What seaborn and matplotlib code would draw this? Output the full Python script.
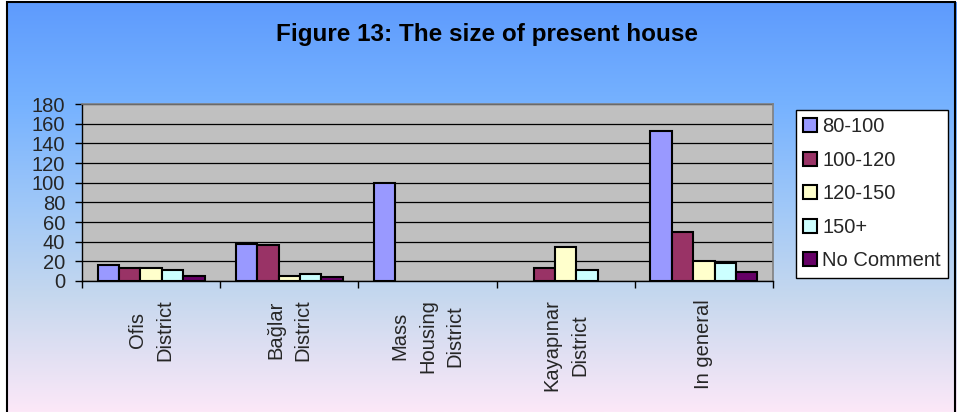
import numpy as np
import pandas as pd
import matplotlib
matplotlib.use("Agg")
import matplotlib.pyplot as plt
import seaborn as sns
from matplotlib.patches import Rectangle
from matplotlib.colors import LinearSegmentedColormap

# ---- data ----
categories = ["Ofis\nDistrict", "Bağlar\nDistrict", "Mass\nHousing\nDistrict",
              "Kayapınar\nDistrict", "In general"]
series_names = ["80-100", "100-120", "120-150", "150+", "No Comment"]
s_80_100 = [16, 38, 100, 0, 153]
s_100_120 = [13, 37, 0, 13, 50]
s_120_150 = [13, 5, 0, 35, 20]
s_150_plus = [11, 7, 0, 11, 18]
s_no_comment = [5, 4, 0, 0, 9]
y_ticks = [0, 20, 40, 60, 80, 100, 120, 140, 160, 180]
title = "Figure 13: The size of present house"

colors = ["#9999ff", "#993366", "#ffffcc", "#ccffff", "#660066"]

rows = []
for name, vals in zip(series_names,
                      [s_80_100, s_100_120, s_120_150, s_150_plus, s_no_comment]):
    for c, v in zip(categories, vals):
        rows.append({"category": c, "series": name, "value": v})
df = pd.DataFrame(rows)

sns.set_theme(style="white")
plt.rcParams["font.family"] = ["Liberation Sans", "DejaVu Sans"]

FS = 14.5
W, H = 957, 412
fig = plt.figure(figsize=(W / 100, H / 100), dpi=100)
fig.patch.set_facecolor("white")

# background gradient
bg = fig.add_axes([0, 0, 1, 1], zorder=-5)
cmap = LinearSegmentedColormap.from_list(
    "bg", [(0.0, (94/255, 155/255, 253/255)),
           (0.25, (118/255, 178/255, 255/255)),
           (0.5, (160/255, 200/255, 248/255)),
           (0.72, (198/255, 216/255, 238/255)),
           (1.0, (252/255, 232/255, 248/255))])
grad = np.linspace(0, 1, 256).reshape(-1, 1)
bg.imshow(grad, aspect="auto", cmap=cmap,
          extent=[7 / W, 1, 0, 1 - 2 / H], origin="upper")
bg.set_xlim(0, 1)
bg.set_ylim(0, 1)
bg.axis("off")
bg.add_patch(Rectangle((7 / W, -0.05), (955 - 7) / W, 1 - 2 / H + 0.05,
                       fill=False, edgecolor="black", linewidth=1.5))

ax = fig.add_axes([82 / W, 1 - 281 / H, (773 - 82) / W, (281 - 104) / H])
sns.barplot(data=df, x="category", y="value", hue="series",
            hue_order=series_names, order=categories, palette=colors,
            width=0.775, saturation=1, edgecolor="black", linewidth=1.5,
            ax=ax, zorder=3)

for p in ax.patches:
    if p.get_height() == 0:
        p.set_linewidth(0)

ax.set_facecolor("#c0c0c0")
ax.set_ylim(0, 180)
ax.set_xlim(-0.5, len(categories) - 0.5)
ax.set_yticks(y_ticks)
ax.set_yticklabels([str(t) for t in y_ticks], fontsize=FS)
ax.yaxis.grid(True, color="black", linewidth=0.9)
ax.set_axisbelow(True)
ax.set_xlabel("")
ax.set_ylabel("")

ax.set_xticks(range(len(categories)))
ax.set_xticklabels(categories, rotation=90, fontsize=FS, va="top",
                   ha="center", multialignment="center", linespacing=1.58)
ax.tick_params(axis="x", length=0, pad=13)
ax.set_xticks(np.arange(-0.5, len(categories), 1), minor=True)
ax.tick_params(axis="x", which="minor", length=5, width=1, color="black",
               direction="out", bottom=True)
ax.tick_params(axis="y", length=5, width=1, color="black", direction="out",
               pad=7, left=True)

for s in ["top", "right"]:
    ax.spines[s].set_color("#808080")
    ax.spines[s].set_linewidth(1.2)
for s in ["left", "bottom"]:
    ax.spines[s].set_color("black")
    ax.spines[s].set_linewidth(1)

handles, labels = ax.get_legend_handles_labels()
ax.legend(handles, labels, loc="upper left",
          bbox_to_anchor=(796 / W, 1 - 110 / H), bbox_transform=fig.transFigure,
          frameon=True, fancybox=False, edgecolor="black", facecolor="white",
          framealpha=1, fontsize=FS, handlelength=0.7, handleheight=0.7,
          handletextpad=0.25, labelspacing=0.72, borderpad=0.36,
          borderaxespad=0)
leg = ax.get_legend()
leg.get_frame().set_linewidth(1)
leg.set_zorder(10)
for h in leg.legend_handles:
    h.set_edgecolor("black")
    h.set_linewidth(1.5)

fig.text(487 / W, 1 - 34 / H, title, ha="center", va="center",
         fontsize=17.5, fontweight="bold", color="black")

fig.savefig("out.png", dpi=100)
